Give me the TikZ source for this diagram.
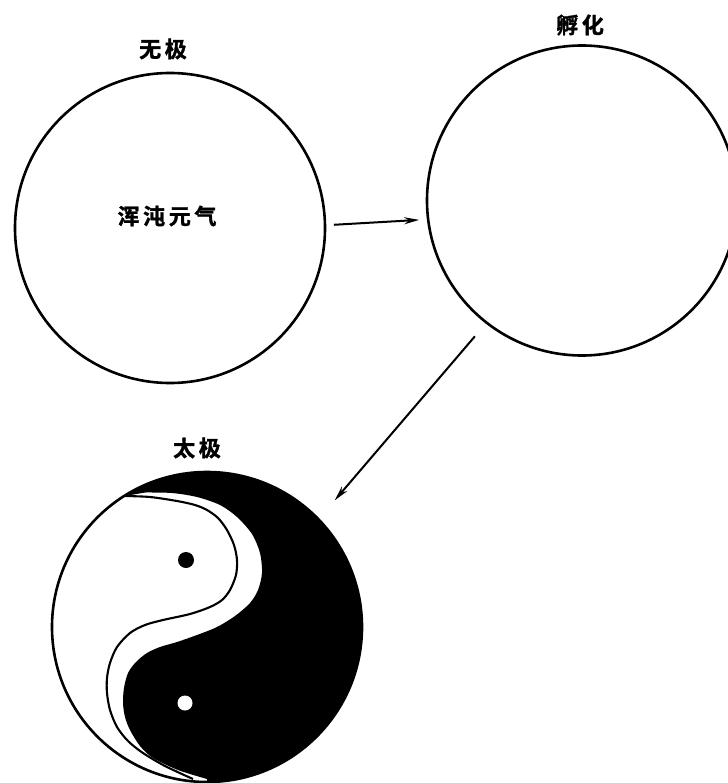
\documentclass[tikz,border=0pt]{standalone}
\usepackage{fontspec}
\newfontfamily\cjk{Noto Sans CJK SC}[BoldFont={Noto Sans CJK SC Bold},BoldFeatures={FakeBold=1.5}]
\usetikzlibrary{arrows.meta}
\begin{document}
\begin{tikzpicture}[x=1pt, y=-1pt,
    ring/.style={draw, circle, line width=2.6pt, inner sep=0pt, outer sep=0pt, minimum size=310pt},
    flow/.style={line width=2pt, -{Stealth[length=15pt, width=7pt]}},
    title/.style={font=\cjk\bfseries\fontsize{22}{22}\selectfont, inner sep=0pt},
    dot/.style={circle, inner sep=0pt, minimum size=15pt}]
  \useasboundingbox (0,0) rectangle (727,783);

  % Black half of the taiji, clipped by its circle
  \begin{scope}
    \clip (207,627) circle (155pt);
    \fill plot[smooth] coordinates {(145,492.5) (172,493) (197,497) (220,505) (237,517) (252,534) (260,553) (262,573)
      (258,590) (250,603) (235,616) (217,627) (197,635) (177,642) (160,647) (147,653) (136,662) (128,673) (124,688) (123,703)
      (125,717) (130,730) (140,746) (153,758) (178,770) (207,779)}
      -- (207,790) -- (400,790) -- (400,440) -- (120,440) -- (120,496) -- (125,496) -- cycle;
  \end{scope}

  % Thin line along the white side
  \draw[line width=2.1pt] plot[smooth] coordinates {(125,496) (150,497) (177,501) (195,505) (207,510) (218,518) (227,530) (234,545)
    (237,560) (236,575) (230,590) (222,600) (210,607) (190,614) (163,620) (145,625) (130,633) (117,647) (110,663) (107,678) (107,693)
    (110,710) (117,727) (128,741) (143,753) (165,766) (193,779)};

  % The three circles
  \node[ring] (wuji) at (170,228) {};
  \node[ring] (fuhua) at (582,200.5) {};
  \node[ring] (taiji) at (207,627) {};

  % Dots of the taiji
  \node[dot, fill=black, minimum size=16pt] (yindot) at (186,560) {};
  \node[dot, fill=white] (yangdot) at (185,703) {};

  % Labels
  \node[title] (wujilabel) at (163,49) {无\,极};
  \node[title] (fuhualabel) at (580,25) {孵\,化};
  \node[title] (taijilabel) at (197,448) {太\,极};
  \node[title] (qilabel) at (167,216) {浑\,沌\,元\,气};

  % Arrows between the circles
  \draw[flow, shorten <=9pt, shorten >=9pt] (wuji.1) -- (fuhua.187);
  \draw[flow, shorten <=18pt, shorten >=25pt] (fuhua.232.6) -- (taiji.44);
\end{tikzpicture}
\end{document}
